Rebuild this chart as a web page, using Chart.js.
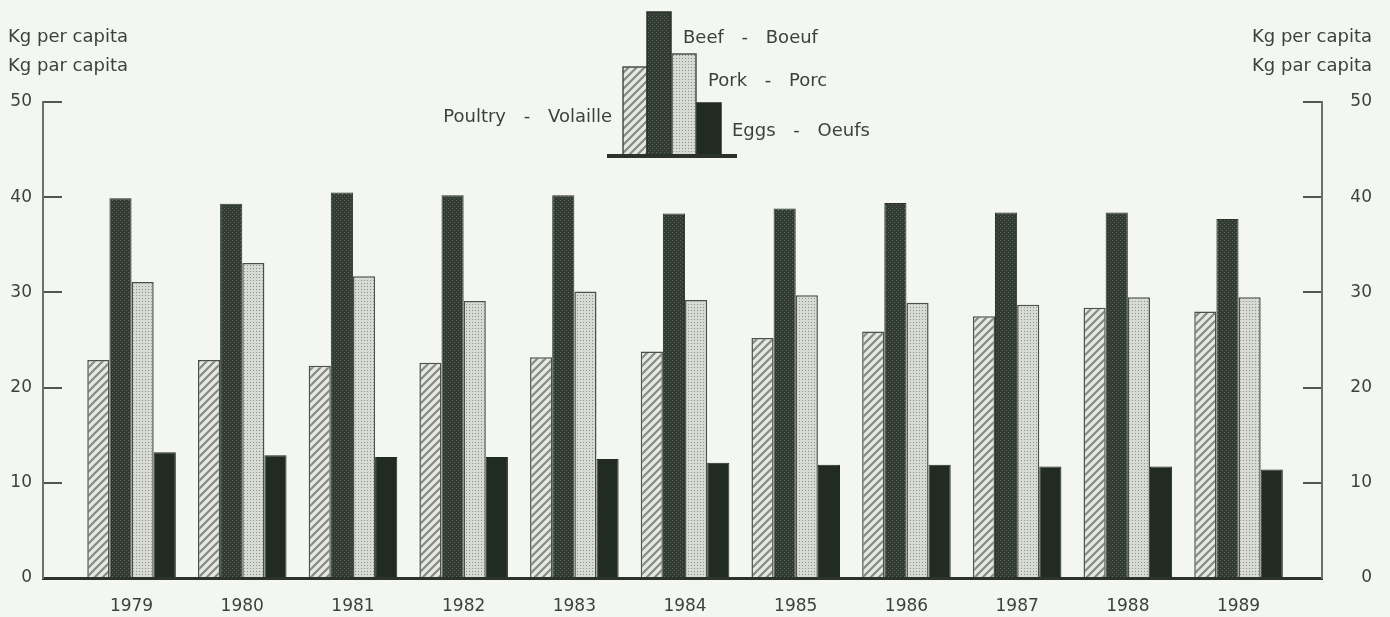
<!DOCTYPE html>
<html>
<head>
<meta charset="utf-8">
<script src="https://cdn.jsdelivr.net/npm/chart.js@4.4.1/dist/chart.umd.min.js"></script>
<style>
  body { margin: 0; background: #f4f6f1; }
</style>
</head>
<body>
<canvas id="meatChart" width="1390" height="617"></canvas>
<script>
// Per capita consumption, kg
const years = [1979, 1980, 1981, 1982, 1983, 1984, 1985, 1986, 1987, 1988, 1989];
const poultry = [22.9, 22.9, 22.3, 22.6, 23.2, 23.8, 25.2, 25.9, 27.5, 28.4, 28.0];
const beef = [39.9, 39.3, 40.5, 40.2, 40.2, 38.3, 38.8, 39.4, 38.4, 38.4, 37.7];
const pork = [31.1, 33.1, 31.7, 29.1, 30.1, 29.2, 29.7, 28.9, 28.7, 29.5, 29.5];
const eggs = [13.2, 12.9, 12.7, 12.7, 12.5, 12.1, 11.9, 11.9, 11.7, 11.7, 11.4];
const yTicks = [0, 10, 20, 30, 40, 50];

const canvas = document.getElementById("meatChart");
const ctx = canvas.getContext("2d");
const textColor = "#3b423b";
const fontFamily = "'DejaVu Sans', sans-serif";

// small tile patterns for the bar fills
function makePattern(size, draw) {
  const c = document.createElement("canvas");
  c.width = size;
  c.height = size;
  draw(c.getContext("2d"), size);
  return ctx.createPattern(c, "repeat");
}

const hatch = makePattern(8, (g) => {
  g.fillStyle = "#e6e9e3";
  g.fillRect(0, 0, 8, 8);
  g.strokeStyle = "#858b83";
  g.lineWidth = 2.2;
  g.beginPath();
  g.moveTo(-1, 9); g.lineTo(9, -1);
  g.moveTo(-1, 1); g.lineTo(1, -1);
  g.moveTo(7, 9); g.lineTo(9, 7);
  g.stroke();
});

const darkDots = makePattern(4, (g) => {
  g.fillStyle = "#313b31";
  g.fillRect(0, 0, 4, 4);
  g.fillStyle = "#5d675d";
  g.fillRect(0, 0, 1, 1);
  g.fillRect(2, 2, 1, 1);
});

const lightDots = makePattern(3, (g) => {
  g.fillStyle = "#d8dbd4";
  g.fillRect(0, 0, 3, 3);
  g.fillStyle = "#8d938b";
  g.fillRect(1, 1, 1, 1);
});

const eggsColor = "#222b21";

function series(label, values, fill, border, width) {
  return {
    label: label,
    data: years.map((yr, i) => ({ x: yr, y: values[i] })),
    backgroundColor: fill,
    borderColor: border,
    borderWidth: width,
    categoryPercentage: 0.8,
    barPercentage: 1.0,
  };
}

// titles and the little bar legend
const decorations = {
  id: "decorations",
  afterDraw(chart) {
    const c = chart.ctx;
    c.save();
    c.fillStyle = textColor;
    c.font = "18px " + fontFamily;
    c.textBaseline = "middle";
    c.textAlign = "left";
    c.fillText("Kg per capita", 8, 37);
    c.fillText("Kg par capita", 8, 66);
    c.textAlign = "right";
    c.fillText("Kg per capita", 1372, 37);
    c.fillText("Kg par capita", 1372, 66);

    // legend bars
    const base = 155;
    const legendBars = [
      [623, 67, hatch, "#4a504a"],
      [647, 12, darkDots, "#2a332a"],
      [672, 54, lightDots, "#4a504a"],
      [697, 103, eggsColor, eggsColor],
    ];
    legendBars.forEach(([x, top, fill, stroke]) => {
      c.fillStyle = fill;
      c.fillRect(x, top, 24, base - top);
      c.strokeStyle = stroke;
      c.lineWidth = 1.5;
      c.strokeRect(x, top, 24, base - top);
    });
    c.fillStyle = "#2b332b";
    c.fillRect(607, base - 1, 130, 4);

    c.fillStyle = textColor;
    c.wordSpacing = "12px";
    c.textAlign = "left";
    c.fillText("Beef - Boeuf", 683, 38);
    c.fillText("Pork - Porc", 708, 81);
    c.fillText("Eggs - Oeufs", 732, 131);
    c.textAlign = "right";
    c.fillText("Poultry - Volaille", 612, 117);
    c.restore();
  },
};

const yAxisCommon = {
  min: 0,
  max: 50,
  afterBuildTicks: (scale) => {
    scale.ticks = yTicks.map((v) => ({ value: v }));
  },
  grid: {
    drawOnChartArea: false,
    drawTicks: true,
    tickLength: -19,
    tickColor: "#4f554f",
    lineWidth: 2,
  },
  border: { display: true, color: "#6a706a", width: 2 },
  ticks: {
    color: textColor,
    font: { family: fontFamily, size: 17 },
  },
};

// fixed axis widths; drop the label overflow so the plot keeps its height
function fixWidth(w) {
  return (scale) => {
    scale.width = w;
    scale.paddingTop = 0;
    scale.paddingBottom = 0;
  };
}

new Chart(ctx, {
  type: "bar",
  data: {
    datasets: [
      series("Poultry - Volaille", poultry, hatch, "#4a504a", 1.5),
      series("Beef - Boeuf", beef, darkDots, "#2a332a", 1),
      series("Pork - Porc", pork, lightDots, "#4a504a", 1.5),
      series("Eggs - Oeufs", eggs, eggsColor, eggsColor, 1),
    ],
  },
  options: {
    responsive: false,
    animation: false,
    layout: { padding: { top: 102, left: 0, right: 18, bottom: 0 } },
    plugins: {
      legend: { display: false },
      tooltip: { enabled: false },
    },
    scales: {
      x: {
        type: "linear",
        offset: false,
        min: 1978.2,
        max: 1989.754,
        afterFit: (scale) => { scale.height = 39; },
        grid: { display: false, drawTicks: false, offset: false },
        border: { display: true, color: "#2b332b", width: 3 },
        ticks: {
          stepSize: 1,
          includeBounds: false,
          padding: 18,
          color: textColor,
          font: { family: fontFamily, size: 17 },
          callback: (v) => String(v),
        },
      },
      y: Object.assign({}, yAxisCommon, {
        position: "left",
        afterFit: fixWidth(43),
        ticks: Object.assign({}, yAxisCommon.ticks, { padding: 30 }),
      }),
      y2: Object.assign({}, yAxisCommon, {
        position: "right",
        afterFit: fixWidth(50),
        ticks: Object.assign({}, yAxisCommon.ticks, { crossAlign: "far" }),
      }),
    },
  },
  plugins: [decorations],
});
</script>
</body>
</html>
